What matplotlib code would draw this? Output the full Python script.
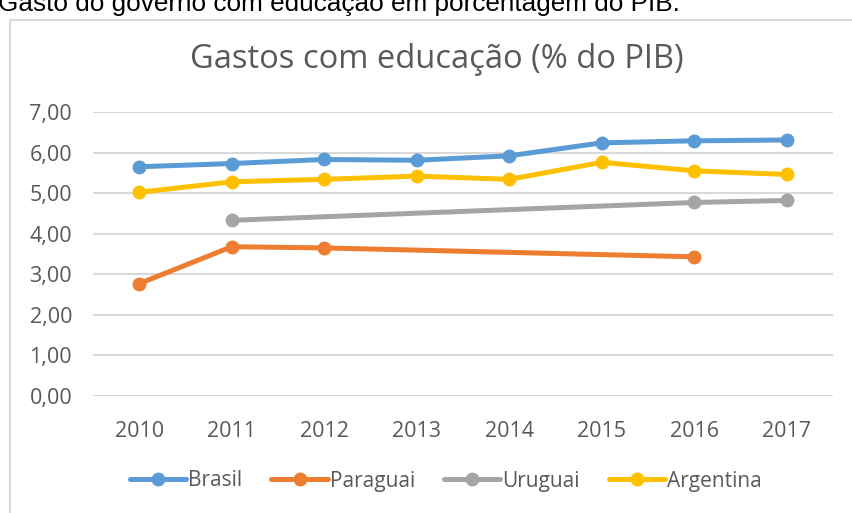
import matplotlib
matplotlib.use("Agg")

import numpy as np
import matplotlib.pyplot as plt
from matplotlib.patches import Rectangle

# data
years = [2010, 2011, 2012, 2013, 2014, 2015, 2016, 2017]
brasil = [5.65, 5.73, 5.83, 5.81, 5.92, 6.24, 6.29, 6.31]
paraguai = [2.77, 3.68, 3.65, None, None, None, 3.43, None]
uruguai = [None, 4.33, None, None, None, None, 4.77, 4.82]
argentina = [5.02, 5.28, 5.34, 5.42, 5.34, 5.76, 5.55, 5.46]
y_ticks = [0, 1, 2, 3, 4, 5, 6, 7]

series = [
    ("Brasil", brasil, "#5B9BD5"),
    ("Paraguai", paraguai, "#ED7D31"),
    ("Uruguai", uruguai, "#A5A5A5"),
    ("Argentina", argentina, "#FFC000"),
]

FONT = ["Open Sans", "DejaVu Sans"]
GRAY = "#595959"

fig = plt.figure(figsize=(8.52, 5.13), dpi=100)
fig.patch.set_facecolor("white")

# chart frame (partly outside the picture, as in the screenshot)
fig.patches.append(Rectangle((10 / 852, -0.1), 1.0, 1 - 20 / 513 + 0.1,
                             transform=fig.transFigure, fill=False,
                             edgecolor="#D9D9D9", linewidth=1.5))

# caption cut off at the top of the screenshot
fig.text(-0.002, 1 - 11 / 513, "Gasto do governo com educação em porcentagem do PIB.",
         fontsize=18.8, family="Liberation Sans", color="black",
         ha="left", va="baseline")

ax = fig.add_axes([93 / 852, 1 - 396 / 513, 740 / 852, 284 / 513])
x = np.arange(len(years))

for name, vals, color in series:
    xs = [i for i, v in zip(x, vals) if v is not None]
    ys = [v for v in vals if v is not None]
    ax.plot(xs, ys, color=color, linewidth=3.6, marker="o", markersize=9,
            solid_capstyle="round", label=name, zorder=3)

ax.set_xlim(-0.5, len(years) - 0.5)
ax.set_ylim(0, 7)
ax.set_yticks(y_ticks)
ax.set_yticklabels([f"{v:.2f}".replace(".", ",") for v in y_ticks],
                   fontsize=15.5, color=GRAY, family=FONT)
ax.set_xticks(x)
ax.set_xticklabels([str(y) for y in years], fontsize=15.5, color=GRAY, family=FONT)
ax.tick_params(length=0)
ax.tick_params(axis="x", pad=18)
ax.tick_params(axis="y", pad=15)
ax.grid(axis="y", color="#D9D9D9", linewidth=1.5)
ax.set_axisbelow(True)
for s in ax.spines.values():
    s.set_visible(False)

fig.text(437 / 852, 1 - 60 / 513, "Gastos com educação (% do PIB)",
         fontsize=23.5, color=GRAY, family=FONT, ha="center", va="center")

fig.legend(loc="center", bbox_to_anchor=(446 / 852, 1 - 481 / 513), ncol=4,
           frameon=False, handlelength=2.7, handletextpad=0.1,
           columnspacing=1.4, prop={"family": FONT, "size": 15},
           labelcolor=GRAY)

plt.savefig("out.png", dpi=100, facecolor=fig.get_facecolor())
plt.close()
